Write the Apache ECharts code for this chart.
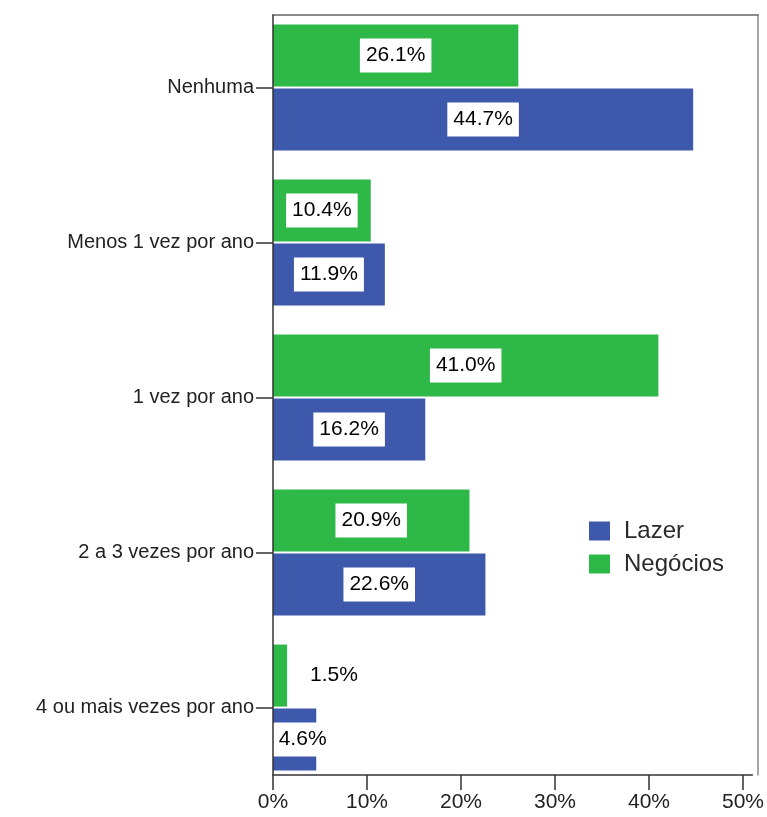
<!DOCTYPE html>
<html>
<head>
<meta charset="utf-8">
<script src="https://cdn.jsdelivr.net/npm/echarts@6/dist/echarts.min.js"></script>
<style>
  html, body { margin: 0; padding: 0; background: #fff; }
  #chart { width: 767px; height: 817px; }
</style>
</head>
<body>
<div id="chart"></div>
<script>
// Frequency of trips per year, split by purpose (percent of respondents)
const categories = ['Nenhuma', 'Menos 1 vez por ano', '1 vez por ano', '2 a 3 vezes por ano', '4 ou mais vezes por ano'];
const lazer = [44.7, 11.9, 16.2, 22.6, 4.6];
const negocios = [26.1, 10.4, 41.0, 20.9, 1.5];
const seriesNames = ['Lazer', 'Negócios'];
const xTicks = [0, 10, 20, 30, 40, 50];

const FONT = 'Liberation Sans, Arial, sans-serif';
const BLUE = '#3e58ac';
const GREEN = '#2eb848';

// Narrow bars get their value label nudged or moved outside the bar
function labelFor(v) {
  if (v < 3) return { position: 'right', distance: 17 };
  if (v < 8) return { position: 'inside', offset: [8, 0] };
  return {};
}
function toItems(arr) {
  return arr.map(v => ({ value: v, label: labelFor(v) }));
}

const valueLabel = {
  show: true,
  position: 'inside',
  formatter: p => p.value.toFixed(1) + '%',
  color: '#000',
  fontSize: 21,
  fontFamily: FONT,
  backgroundColor: '#fff',
  padding: [7, 6],
  lineHeight: 20
};

const hidden = { axisTick: { show: false }, axisLabel: { show: false }, splitLine: { show: false } };

const chart = echarts.init(document.getElementById('chart'), null, { renderer: 'canvas' });
chart.setOption({
  animation: false,
  textStyle: { fontFamily: FONT },
  grid: [
    { left: 273, width: 485, top: 10, height: 775 },   // category bands
    { left: 273, width: 485, top: 15, height: 760 }    // plot frame
  ],
  xAxis: [
    {
      type: 'value', gridIndex: 0, position: 'bottom', min: 0, max: 51, offset: -10,
      axisLine: { show: true, onZero: false, lineStyle: { color: '#333', width: 1.5 } },
      axisTick: { show: true, length: 15, customValues: xTicks, lineStyle: { color: '#333', width: 1.5 } },
      axisLabel: { customValues: xTicks, formatter: v => v + '%', margin: 17, fontSize: 21, color: '#222' },
      splitLine: { show: false }
    },
    Object.assign({
      type: 'value', gridIndex: 1, position: 'top', min: 0, max: 1,
      axisLine: { show: true, onZero: false, lineStyle: { color: '#666', width: 1.5 } }
    }, hidden)
  ],
  yAxis: [
    {
      type: 'category', gridIndex: 0, data: categories, inverse: true,
      axisLine: { show: false },
      axisTick: { show: true, alignWithLabel: true, length: 17, lineStyle: { color: '#333', width: 1.5 } },
      axisLabel: { margin: 19, fontSize: 20, color: '#222' }
    },
    Object.assign({
      type: 'value', gridIndex: 1, position: 'left', min: 0, max: 1, z: 5,
      axisLine: { show: true, onZero: false, lineStyle: { color: '#333', width: 1.5 } }
    }, hidden),
    Object.assign({
      type: 'value', gridIndex: 1, position: 'right', min: 0, max: 1,
      axisLine: { show: true, onZero: false, lineStyle: { color: '#888', width: 1.5 } }
    }, hidden)
  ],
  legend: {
    data: seriesNames,
    orient: 'vertical',
    left: 584,
    top: 514,
    itemWidth: 21,
    itemHeight: 19,
    itemGap: 9,
    icon: 'rect',
    textStyle: { fontSize: 24, color: '#2a2a2a', lineHeight: 19, padding: [0, 0, 0, 9] }
  },
  series: [
    {
      name: 'Negócios', type: 'bar', xAxisIndex: 0, yAxisIndex: 0,
      data: toItems(negocios), barWidth: 62, barGap: '3%',
      itemStyle: { color: GREEN }, label: valueLabel
    },
    {
      name: 'Lazer', type: 'bar', xAxisIndex: 0, yAxisIndex: 0,
      data: toItems(lazer), barWidth: 62, barGap: '3%',
      itemStyle: { color: BLUE }, label: valueLabel
    }
  ]
});
</script>
</body>
</html>
